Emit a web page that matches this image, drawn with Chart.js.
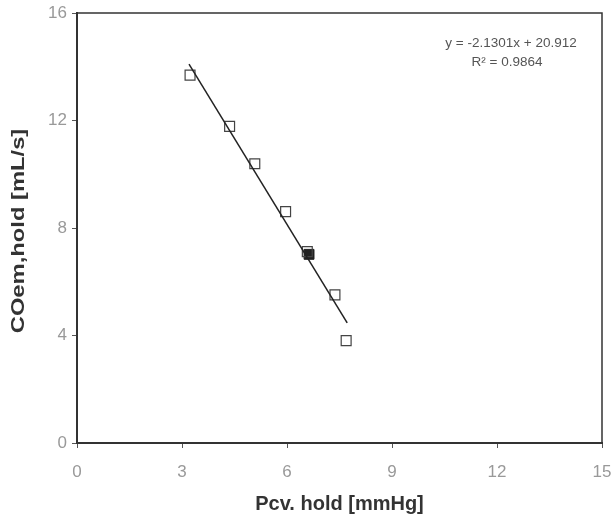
<!DOCTYPE html>
<html>
<head>
<meta charset="utf-8">
<script src="https://cdn.jsdelivr.net/npm/chart.js@4"></script>
<style>
  html, body { margin: 0; padding: 0; background: #fff; }
  #wrap { width: 614px; height: 520px; }
</style>
</head>
<body>
<div id="wrap"><canvas id="main-chart" width="614" height="520"></canvas></div>
<script>
// Data
const pcvHold = [3.23, 4.36, 5.08, 5.96, 6.58, 7.37, 7.69];
const coemHold = [13.69, 11.78, 10.39, 8.61, 7.12, 5.51, 3.81];
const filledPcv = [6.63];
const filledCoem = [7.02];

// Trend line from the printed equation
const slope = -2.1301;
const intercept = 20.912;
const trendX = [3.2, 7.72];
const rSquared = '0.9864';

const xTicks = [0, 3, 6, 9, 12, 15];
const yTicks = [0, 4, 8, 12, 16];

const yTitle = 'COem,hold [mL/s]';

const pts = (xs, ys) => xs.map((x, i) => ({ x, y: ys[i] }));

const tickFont = { family: '"Liberation Sans Narrow", "Arial Narrow", "Liberation Sans", Arial, sans-serif', size: 17 };

// frame on top/right, equation label, stretched y title
const framePlugin = {
  id: 'frame',
  afterDatasetsDraw(chart) {
    const { ctx, chartArea: a } = chart;
    ctx.save();
    ctx.strokeStyle = '#333';
    ctx.lineWidth = 1.5;
    ctx.beginPath();
    ctx.moveTo(a.left, a.top);
    ctx.lineTo(a.right, a.top);
    ctx.lineTo(a.right, a.bottom);
    ctx.stroke();

    ctx.fillStyle = '#555';
    ctx.font = '13.5px "Liberation Sans", Arial, sans-serif';
    ctx.textAlign = 'center';
    ctx.textBaseline = 'middle';
    const eq = 'y = ' + slope + 'x + ' + intercept;
    ctx.fillText(eq, a.right - 91, 43);
    ctx.fillText('R\u00B2 = ' + rSquared, a.right - 95, 62);
    ctx.restore();

    ctx.save();
    ctx.fillStyle = '#333';
    ctx.font = 'bold 19px "Liberation Sans", Arial, sans-serif';
    ctx.textAlign = 'center';
    ctx.textBaseline = 'middle';
    ctx.translate(19, (a.top + a.bottom) / 2 + 3);
    ctx.rotate(-Math.PI / 2);
    ctx.scale(1.25, 1);
    ctx.fillText(yTitle, 0, 0);
    ctx.restore();
  }
};

new Chart(document.getElementById('main-chart'), {
  type: 'scatter',
  data: {
    datasets: [
      {
        label: 'trend',
        type: 'line',
        data: trendX.map((x) => ({ x, y: slope * x + intercept })),
        borderColor: '#222',
        borderWidth: 1.5,
        pointRadius: 0,
        fill: false,
      },
      {
        label: 'hold',
        data: pts(pcvHold, coemHold),
        pointStyle: 'rect',
        pointRadius: 7,
        backgroundColor: 'rgba(255,255,255,0)',
        borderColor: '#444',
        borderWidth: 1.2,
      },
      {
        label: 'filled',
        data: pts(filledPcv, filledCoem),
        pointStyle: 'rect',
        pointRadius: 7,
        backgroundColor: '#222',
        borderColor: '#222',
        borderWidth: 1,
      },
    ],
  },
  options: {
    responsive: false,
    animation: false,
    layout: { padding: { left: 0, right: 12, top: 13, bottom: 0 } },
    plugins: {
      legend: { display: false },
      tooltip: { enabled: false },
    },
    scales: {
      x: {
        type: 'linear',
        min: 0,
        max: 15,
        afterBuildTicks: (s) => { s.ticks = xTicks.map((v) => ({ value: v })); },
        afterFit: (s) => {
          s.height = 77;
          s.paddingLeft = 0;
          s.paddingRight = 0;
        },
        grid: { drawOnChartArea: false, drawTicks: true, tickLength: 5, color: '#555' },
        border: { display: true, color: '#333', width: 2 },
        ticks: {
          color: '#999',
          padding: 14,
          font: tickFont,
        },
        title: {
          display: true,
          text: 'Pcv. hold [mmHg]',
          color: '#333',
          font: { family: '"Liberation Sans", Arial, sans-serif', size: 20, weight: 'bold' },
          padding: { top: 0, bottom: 4 },
        },
      },
      y: {
        type: 'linear',
        min: 0,
        max: 16,
        afterBuildTicks: (s) => { s.ticks = yTicks.map((v) => ({ value: v })); },
        afterFit: (s) => {
          s.width = 77;
          s.paddingTop = 0;
          s.paddingBottom = 0;
        },
        grid: { drawOnChartArea: false, drawTicks: true, tickLength: 5, color: '#555' },
        border: { display: true, color: '#333', width: 2 },
        ticks: {
          color: '#999',
          padding: 5,
          font: tickFont,
        },
        title: { display: false },
      },
    },
  },
  plugins: [framePlugin],
});
</script>
</body>
</html>
